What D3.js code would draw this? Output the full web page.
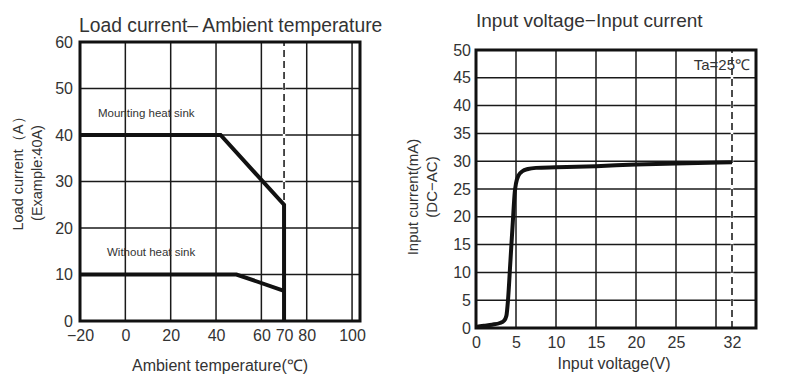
<!DOCTYPE html>
<html>
<head>
<meta charset="utf-8">
<script src="https://cdn.jsdelivr.net/npm/d3@7"></script>
<style>
  body { margin: 0; background: #fff; }
  svg { display: block; font-family: "Liberation Sans", Arial, sans-serif; }
  .grid line { stroke: #1a1a1a; stroke-width: 1.5; }
  .frame { fill: none; stroke: #111; stroke-width: 3; }
  .dash { stroke: #111; stroke-width: 1.5; stroke-dasharray: 7,4; }
  .curve { fill: none; stroke: #111; stroke-width: 4; stroke-linejoin: miter; }
  .tick text { fill: #333; font-size: 16px; }
  .label { fill: #333; }
</style>
</head>
<body>
<script>
var width = 800;  // The width of the SVG element.
var height = 384; // The height of the SVG element.

// Load current vs ambient temperature.
var tempTicks = [-20, 0, 20, 40, 60, 70, 80, 100];
var tempGrid = [0, 20, 40, 60, 80, 100];
var loadTicks = [0, 10, 20, 30, 40, 50, 60];
var heatSinkTemp = [-20, 42, 70, 70];
var heatSinkLoad = [40, 40, 25, 0];
var noSinkTemp = [-20, 49, 70];
var noSinkLoad = [10, 10, 6.5];
var tempLimit = 70;

// Input current vs input voltage.
var voltTicks = [0, 5, 10, 15, 20, 25, 32];
var voltGrid = [5, 10, 15, 20, 25, 30];
var currentTicks = [0, 5, 10, 15, 20, 25, 30, 35, 40, 45, 50];
var inputVolt = [0, 1, 2, 3, 3.5, 3.8, 4.0, 4.3, 4.6, 4.85, 5.0, 5.3, 5.8, 6.5, 7.5, 10, 15, 20, 25, 32];
var inputCurrent = [0.2, 0.4, 0.6, 0.9, 1.3, 2.2, 5, 12, 19, 24.5, 26, 27.4, 28.2, 28.6, 28.8, 28.9, 29.1, 29.4, 29.6, 29.8];
var voltLimit = 32;

var svg = d3.select("body")
  .append("svg")
  .attr("width", width)
  .attr("height", height);

function drawPanel(p) {
  var g = svg.append("g");

  // Horizontal grid lines.
  g.append("g").classed("grid", true)
    .selectAll("line")
    .data(p.yTicks)
    .enter().append("line")
    .attr("x1", p.x.range()[0]).attr("x2", p.x.range()[1])
    .attr("y1", function(d) { return p.y(d); })
    .attr("y2", function(d) { return p.y(d); });

  // Vertical grid lines.
  g.append("g").classed("grid", true)
    .selectAll("line")
    .data(p.xGrid)
    .enter().append("line")
    .attr("y1", p.y.range()[0]).attr("y2", p.y.range()[1])
    .attr("x1", function(d) { return p.x(d); })
    .attr("x2", function(d) { return p.x(d); });

  // Dashed limit line, white gaps over the grid.
  g.append("line")
    .attr("x1", p.x(p.limit)).attr("x2", p.x(p.limit))
    .attr("y1", p.y.range()[0]).attr("y2", p.y.range()[1])
    .attr("stroke", "#fff").attr("stroke-width", 2.5);
  g.append("line").classed("dash", true)
    .attr("x1", p.x(p.limit)).attr("x2", p.x(p.limit))
    .attr("y1", p.y.range()[0]).attr("y2", p.y.range()[1]);

  // Axes (labels only).
  var xAxis = g.append("g")
    .attr("transform", "translate(0," + p.y.range()[0] + ")")
    .call(d3.axisBottom(p.x).tickValues(p.xTicks).tickSize(0).tickPadding(p.xPad)
      .tickFormat(function(d) { return d < 0 ? "\u2212" + Math.abs(d) : d; }));
  xAxis.select(".domain").remove();

  var yAxis = g.append("g")
    .attr("transform", "translate(" + p.x.range()[0] + ",0)")
    .call(d3.axisLeft(p.y).tickValues(p.yTicks).tickSize(0).tickPadding(p.yPad));
  yAxis.select(".domain").remove();

  // Frame.
  g.append("rect").classed("frame", true)
    .attr("x", p.x.range()[0])
    .attr("y", p.y.range()[1])
    .attr("width", p.x.range()[1] - p.x.range()[0])
    .attr("height", p.y.range()[0] - p.y.range()[1]);

  return g;
}

// ---- Left panel ----
var x1 = d3.scaleLinear().domain([-20, 103.5]).range([80, 360]);
var y1 = d3.scaleLinear().domain([0, 60]).range([321, 42]);

var left = drawPanel({x: x1, y: y1, xTicks: tempTicks, xGrid: tempGrid, yTicks: loadTicks,
  limit: tempLimit, xPad: 9, yPad: 7});

var line1 = d3.line()
  .x(function(d) { return x1(d[0]); })
  .y(function(d) { return y1(d[1]); });

left.append("path").classed("curve", true)
  .attr("d", line1(d3.zip(heatSinkTemp, heatSinkLoad)));
left.append("path").classed("curve", true)
  .attr("d", line1(d3.zip(noSinkTemp, noSinkLoad)));

left.append("text").classed("label", true)
  .attr("x", 98).attr("y", 117)
  .style("font-size", "11.5px")
  .text("Mounting heat sink");
left.append("text").classed("label", true)
  .attr("x", 107).attr("y", 256)
  .style("font-size", "11.5px")
  .text("Without heat sink");

left.append("text").classed("label", true)
  .attr("x", 79).attr("y", 32)
  .style("font-size", "19.3px")
  .text("Load current\u2013 Ambient temperature");

left.append("text").classed("label", true)
  .attr("x", 220).attr("y", 371)
  .attr("text-anchor", "middle")
  .style("font-size", "16px")
  .text("Ambient temperature(\u2103)");

left.append("text").classed("label", true)
  .attr("transform", "translate(23,170) rotate(-90)")
  .attr("text-anchor", "middle")
  .style("font-size", "14.5px")
  .text("Load current\uff08A\uff09");
left.append("text").classed("label", true)
  .attr("transform", "translate(42,173) rotate(-90)")
  .attr("text-anchor", "middle")
  .style("font-size", "14.5px")
  .text("(Example:40A)");

// ---- Right panel ----
var x2 = d3.scaleLinear().domain([0, 35]).range([476, 756]);
var y2 = d3.scaleLinear().domain([0, 50]).range([328, 50]);

var right = drawPanel({x: x2, y: y2, xTicks: voltTicks, xGrid: voltGrid, yTicks: currentTicks,
  limit: voltLimit, xPad: 9, yPad: 5});

var line2 = d3.line()
  .curve(d3.curveMonotoneX)
  .x(function(d) { return x2(d[0]); })
  .y(function(d) { return y2(d[1]); });

right.append("path").classed("curve", true)
  .attr("d", line2(d3.zip(inputVolt, inputCurrent)));

right.append("text").classed("label", true)
  .attr("x", 750).attr("y", 70)
  .attr("text-anchor", "end")
  .style("font-size", "15px")
  .text("Ta=25\u2103");

right.append("text").classed("label", true)
  .attr("x", 476).attr("y", 27)
  .style("font-size", "19px")
  .text("Input voltage\u2212Input current");

right.append("text").classed("label", true)
  .attr("x", 614).attr("y", 369)
  .attr("text-anchor", "middle")
  .style("font-size", "16px")
  .text("Input voltage(V)");

right.append("text").classed("label", true)
  .attr("transform", "translate(418,197) rotate(-90)")
  .attr("text-anchor", "middle")
  .style("font-size", "15px")
  .text("Input current(mA)");
right.append("text").classed("label", true)
  .attr("transform", "translate(437,187) rotate(-90)")
  .attr("text-anchor", "middle")
  .style("font-size", "15px")
  .text("(DC\u2212AC)");
</script>
</body>
</html>
